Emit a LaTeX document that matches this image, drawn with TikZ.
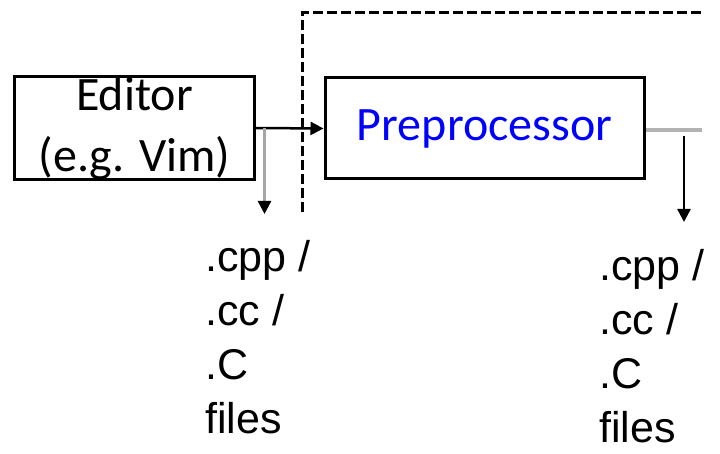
\documentclass[tikz,border=0pt]{standalone}
\usepackage{fontspec}
\setmainfont{Liberation Sans}
\newfontfamily\calfont{Carlito}
\usetikzlibrary{arrows.meta}
\begin{document}
\begin{tikzpicture}[x=1pt,y=-1pt,
  box/.style={draw=black,line width=3pt,rectangle,inner sep=0pt,align=center,
    font=\calfont\fontsize{48}{62}\selectfont},
  files/.style={anchor=north west,inner sep=0pt,align=left,
    font=\fontsize{43}{54}\selectfont},
  conn/.style={line width=2.5pt},
  tip/.style={-{Triangle[length=13pt,width=13pt,black]}},
  dashline/.style={line width=3pt,dash pattern=on 10pt off 4pt}]
\useasboundingbox (0,0) rectangle (720,454);
\node[box,minimum width=240pt,minimum height=100pt] (ed) at (134.5,128) {Editor\\[-1pt](e.g. Vim)};
\node[box,minimum width=319pt,minimum height=101pt,text=blue] (pp) at (484.5,128.5) {Preprocessor};
\node[files] (f1) at (205,240) {.cpp /\\.cc /\\.C\\files};
\node[files] (f2) at (599,249) {.cpp /\\.cc /\\.C\\files};
\coordinate (d1) at (302.5,212);
\coordinate (d2) at (302.5,12.5);
\coordinate (d3) at (703,12.5);
\coordinate (g1) at (264.5,128);
\coordinate (g2) at (264.5,214);
\coordinate (r1) at (702,130);
\coordinate (v1) at (684,136);
\coordinate (v2) at (684,222);
\draw[dashline] (d1) -- (d2) -- (d3);
\draw[conn,tip] (ed.east) -- (pp.west);
\draw[conn,gray!70,tip] (g1) -- (g2);
\draw[line width=4pt,gray!60] (pp.east |- r1) -- (r1);
\draw[conn,tip] (v1) -- (v2);
\end{tikzpicture}
\end{document}
